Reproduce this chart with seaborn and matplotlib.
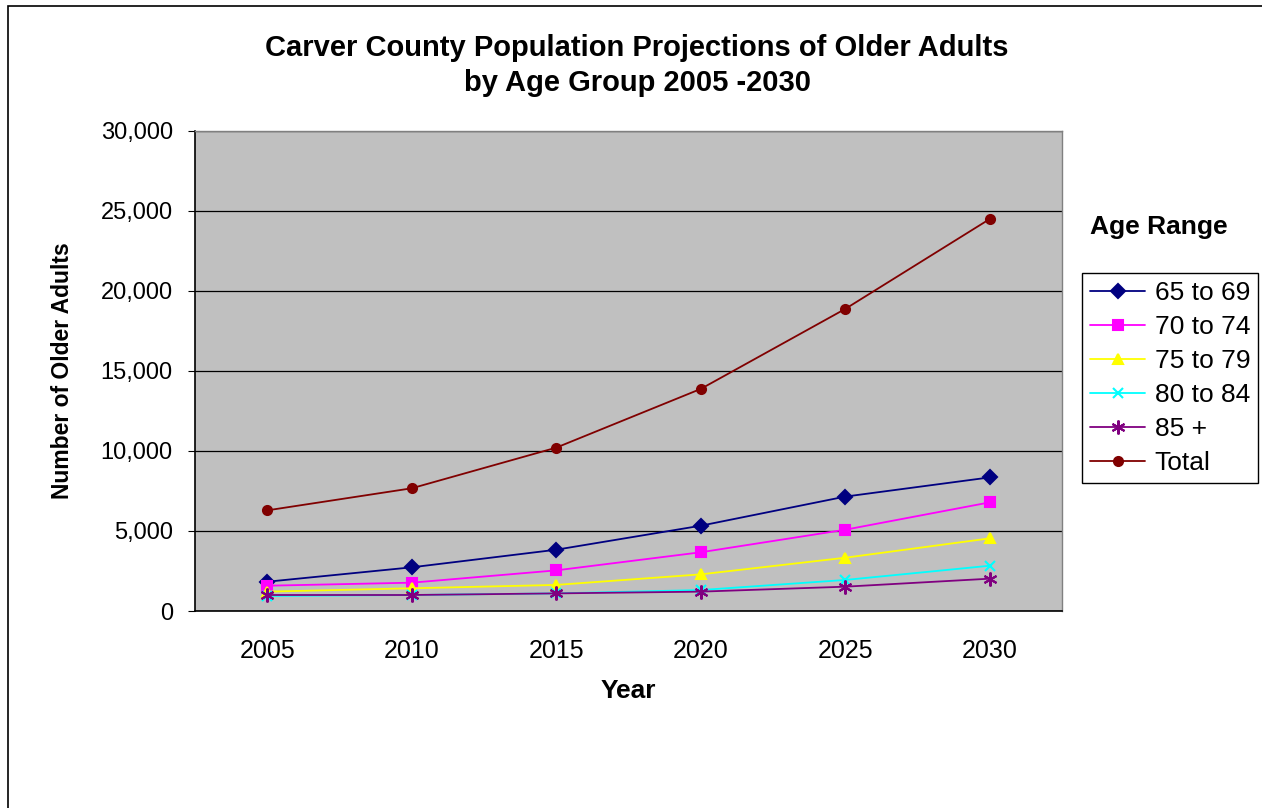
import pandas as pd
import matplotlib.pyplot as plt
import seaborn as sns
from matplotlib.patches import Rectangle
from matplotlib.ticker import FuncFormatter, FixedLocator

years = ['2005', '2010', '2015', '2020', '2025', '2030']
age_65_69 = [1830, 2730, 3830, 5330, 7150, 8350]
age_70_74 = [1580, 1770, 2540, 3670, 5080, 6790]
age_75_79 = [1210, 1420, 1630, 2290, 3330, 4540]
age_80_84 = [940, 1000, 1100, 1310, 1940, 2830]
age_85_up = [1000, 1000, 1100, 1210, 1520, 2020]
total = [6290, 7670, 10210, 13880, 18880, 24500]

groups = ['65 to 69', '70 to 74', '75 to 79', '80 to 84', '85 +', 'Total']
series = [age_65_69, age_70_74, age_75_79, age_80_84, age_85_up, total]
colors = ['#000080', '#FF00FF', '#FFFF00', '#00FFFF', '#800080', '#800000']
markers = ['D', 's', '^', 'x', (6, 2, 0), 'o']
marker_sizes = [7, 6.5, 7.5, 7.5, 10, 6.5]

df = pd.DataFrame({
    'Year': years * len(groups),
    'Count': [v for s in series for v in s],
    'Age Range': [g for g in groups for _ in years],
})

sns.set_style('white')
plt.rcParams['font.family'] = ['Liberation Sans', 'DejaVu Sans']
plt.rcParams['text.color'] = 'black'
plt.rcParams['axes.labelcolor'] = 'black'
plt.rcParams['xtick.color'] = 'black'
plt.rcParams['ytick.color'] = 'black'

fig = plt.figure(figsize=(12.62, 8.08), dpi=100)
ax = fig.add_axes([195 / 1262, 1 - 611 / 808, 867 / 1262, 480 / 808])
ax.set_facecolor('#C0C0C0')

sns.pointplot(data=df, x='Year', y='Count', hue='Age Range', order=years,
              hue_order=groups, palette=colors, markers=markers,
              linestyles='-', errorbar=None, ax=ax, markersize=7,
              linewidth=1.3, markeredgewidth=1.5)

for line, ms in zip(ax.lines, marker_sizes):
    line.set_markersize(ms)

ax.set_xlim(-0.5, 5.5)
ax.set_ylim(0, 30000)
ax.set_yticks(range(0, 30001, 5000))
ax.yaxis.set_major_formatter(FuncFormatter(lambda v, p: f'{int(v):,}'))
ax.grid(axis='y', color='black', linewidth=0.9)
ax.set_axisbelow(True)

ax.xaxis.set_minor_locator(FixedLocator([i - 0.5 for i in range(7)]))
ax.tick_params(axis='x', which='major', length=0, pad=20, labelsize=18)
ax.tick_params(axis='x', which='minor', length=7, width=0.8, color='black', direction='out')
ax.tick_params(axis='y', length=5, width=0.8, color='black', direction='out', left=True,
               labelsize=17, pad=11)

for side in ['left', 'bottom']:
    ax.spines[side].set_color('black')
    ax.spines[side].set_linewidth(1.2)
for side in ['top', 'right']:
    ax.spines[side].set_color('#808080')
    ax.spines[side].set_linewidth(1.0)

ax.set_xlabel('Year', fontsize=19, fontweight='bold', labelpad=12)
ax.set_ylabel('Number of Older Adults', fontsize=16.5, fontweight='bold', labelpad=19)

fig.suptitle('Carver County Population Projections of Older Adults\nby Age Group 2005 -2030',
             x=637 / 1262, y=1 - 34 / 808, fontsize=21, fontweight='bold',
             linespacing=1.3, va='top')

handles, labels = ax.get_legend_handles_labels()
for h, ms in zip(handles, marker_sizes):
    h.set_markersize(ms)
ax.legend(handles, labels, loc='upper left', bbox_to_anchor=(1082 / 1262, 1 - 273 / 808),
          bbox_transform=fig.transFigure, fontsize=19, frameon=True, fancybox=False,
          edgecolor='black', framealpha=1, borderpad=0.3, labelspacing=0.38,
          handlelength=2.1, handletextpad=0.35, borderaxespad=0)
ax.get_legend().get_frame().set_linewidth(1.0)
fig.text(1090 / 1262, 1 - 227 / 808, 'Age Range', fontsize=19, fontweight='bold',
         va='center', ha='left')

fig.add_artist(Rectangle((8 / 1262, -0.1), 1.2, 1 - 6 / 808 + 0.1,
                         transform=fig.transFigure, fill=False, edgecolor='black',
                         linewidth=1.2))

fig.savefig('out.png', dpi=100)
